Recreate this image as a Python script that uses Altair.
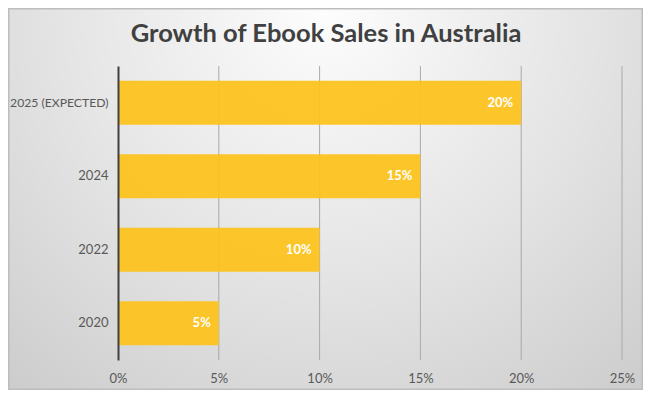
import altair as alt
import pandas as pd

categories = ["2020", "2022", "2024", "2025 (EXPECTED)"]
growth = [5, 10, 15, 20]
tick_values = [0, 5, 10, 15, 20, 25]
grid_values = [5, 10, 15, 20, 25]

df = pd.DataFrame({"year": categories, "growth": growth})
df["label"] = [f"{v}%" for v in growth]
grid_df = pd.DataFrame({"v": grid_values})

W, H = 504, 294
PL, PT, PR, PB = 110, 58, 21, 30
FONT = "Lato"

order = list(reversed(categories))

bg = alt.Chart(pd.DataFrame({"a": [0]})).mark_rect(
    color={
        "gradient": "radial",
        "x1": 0.5, "y1": 0.2, "r1": 0.0,
        "x2": 0.5, "y2": 0.2, "r2": 0.85,
        "stops": [
            {"offset": 0.0, "color": "#fdfdfd"},
            {"offset": 0.5, "color": "#e4e4e4"},
            {"offset": 1.0, "color": "#c8c8c8"},
        ],
    },
    stroke="#bdbdbd",
    strokeWidth=1.5,
).encode(
    x=alt.value(-PL + 0.75),
    x2=alt.value(W + PR - 0.75),
    y=alt.value(-PT + 0.75),
    y2=alt.value(H + PB - 0.75),
)

xscale = alt.Scale(domain=[0, 25], nice=False)

grid = alt.Chart(grid_df).mark_rule(color="#a9a9a9", strokeWidth=1).encode(
    x=alt.X("v:Q", scale=xscale),
    y=alt.value(0),
    y2=alt.value(H),
)

bars = alt.Chart(df).mark_bar(color="#fdc31c", opacity=0.93).encode(
    x=alt.X(
        "growth:Q",
        scale=xscale,
        axis=alt.Axis(
            values=tick_values,
            labelExpr="datum.value + '%'",
            grid=False,
            domain=False,
            ticks=False,
            labelFlush=False,
            labelPadding=12,
            labelFont=FONT,
            labelFontSize=13,
            labelColor="#595959",
            title=None,
            zindex=1,
        ),
    ),
    y=alt.Y(
        "year:N",
        sort=order,
        scale=alt.Scale(paddingInner=0.4, paddingOuter=0.2),
        axis=alt.Axis(
            domain=True,
            domainColor="#404040",
            domainWidth=2,
            ticks=False,
            labelPadding=10,
            labelFont=FONT,
            labelFontSize={
                "condition": {"test": "length(datum.label) > 6", "value": 12.2},
                "value": 13,
            },
            labelColor="#595959",
            title=None,
            zindex=1,
        ),
    ),
)

text = alt.Chart(df).mark_text(
    align="right", baseline="middle", dx=-8, color="white",
    font=FONT, fontWeight="bold", fontSize=13,
).encode(
    x=alt.X("growth:Q", scale=xscale),
    y=alt.Y("year:N", sort=order),
    text="label:N",
)

chart = alt.layer(bg, grid, bars, text).properties(
    width=W,
    height=H,
    padding={"left": PL, "top": PT, "right": PR, "bottom": PB},
    autosize=alt.AutoSizeParams(type="none"),
    title=alt.TitleParams(
        "Growth of Ebook Sales in Australia",
        font=FONT,
        fontSize=25.5,
        fontWeight="bold",
        color="#404040",
        anchor="middle",
        dx=-44,
        dy=39,
        offset=0,
        zindex=1,
    ),
).configure_view(stroke=None).configure(background="white")

chart.save("out.html", embed_options={"renderer": "svg", "actions": False})
